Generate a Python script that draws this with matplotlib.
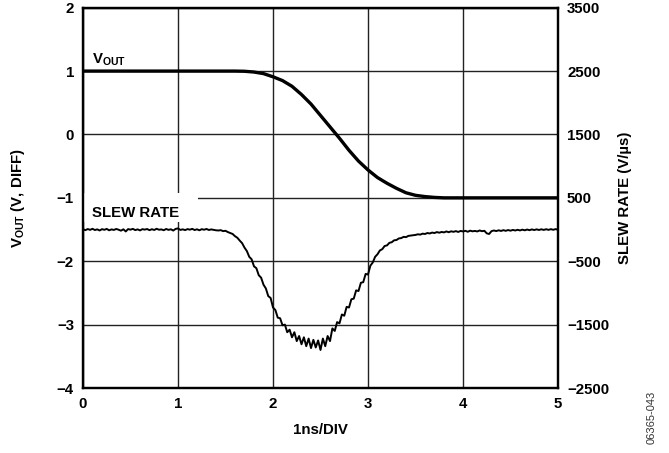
import numpy as np
import matplotlib
matplotlib.use("Agg")
import matplotlib.pyplot as plt
from matplotlib.patches import Rectangle

plt.rcParams['font.family'] = ['Liberation Sans', 'DejaVu Sans']
plt.rcParams['font.weight'] = 'bold'
plt.rcParams['mathtext.fontset'] = 'custom'
plt.rcParams['mathtext.rm'] = 'Liberation Sans:bold'
plt.rcParams['mathtext.bf'] = 'Liberation Sans:bold'

# VOUT (V, diff) vs time (ns)
vout_t = [0.0, 1.6, 1.7, 1.8, 1.9, 2.0, 2.1, 2.2, 2.3, 2.4, 2.5, 2.6, 2.7,
          2.8, 2.9, 3.0, 3.1, 3.2, 3.3, 3.4, 3.5, 3.6, 3.7, 3.8, 3.9, 5.0]
vout_v = [1.0, 1.0, 0.997, 0.985, 0.96, 0.91, 0.85, 0.76, 0.63, 0.48, 0.30,
          0.12, -0.06, -0.25, -0.42, -0.56, -0.68, -0.77, -0.85, -0.92,
          -0.96, -0.98, -0.993, -1.0, -1.0, -1.0]

# slew rate (V/us), one sample every 0.025 ns from 0 to 5 ns (scope noise included)
slew = [
    5, -10, 8, -5, 12, -8, 3, -15,
    6, -4, 10, -12, 2, -6, 9, -3,
    -18, 4, -30, 7, -2, 11, -9, 3,
    -14, 6, -1, 8, -10, 5, -7, 12,
    -3, 2, -11, 9, -5, 4, -16, 10,
    18, -6, 3, -9, 7, -2, 11, -8,
    4, -12, 6, -3, 9, -7, 2, -5,
    -12,
    -15, -10, -25, -20, -40, -55, -70, -105,
    -130, -175, -215, -285, -340, -430, -470, -580,
    -610, -720, -760, -870, -930, -1050, -1080, -1230,
    -1270, -1390, -1400, -1510, -1500, -1620, -1580, -1700,
    -1620, -1760, -1680, -1810, -1700, -1840, -1720, -1870,
    -1740, -1860, -1750, -1900, -1720, -1840, -1680, -1760,
    -1560, -1600, -1460, -1480, -1340, -1360, -1220, -1230,
    -1100, -1090, -960, -970, -840, -830, -700, -710,
    -570, -520, -430, -390, -330, -310, -260, -250,
    -210, -200, -170, -165, -140, -135, -115, -120,
    -100, -95, -90, -85,
    -75, -80, -65, -70, -55, -62, -48, -55,
    -40, -50, -38, -45, -30, -42, -28, -36,
    -25, -38, -22, -30, -20, -35, -18, -28,
    -22, -30, -15, -26, -20, -60, -70, -25,
    -15, -24, -12, -22, -10, -20, -8, -18,
    -6, -15, -4, -14, -2, -12, 0, -10,
    2, -8, 3, -7, 4, -6, 5, -5,
    6, -4, 7, -3,
]
slew_t = np.linspace(0, 5, len(slew))

x_ticks = [0, 1, 2, 3, 4, 5]
left_ticks = [-4, -3, -2, -1, 0, 1, 2]
right_ticks = [-2500, -1500, -500, 500, 1500, 2500, 3500]

FS = 10.8

fig = plt.figure(figsize=(6.69, 4.53), dpi=100)
ax = fig.add_axes([83 / 669, 1 - 388 / 453, (558 - 83) / 669, (388 - 7.7) / 453])
ax2 = ax.twinx()

ax.set_xlim(0, 5)
ax.set_ylim(-4, 2)
ax2.set_ylim(-2500, 3500)
ax.set_xticks(x_ticks)
ax.set_yticks(left_ticks)
ax2.set_yticks(right_ticks)
ax.set_axisbelow(True)
ax.grid(True, color='#222222', linewidth=1.0)

for a in (ax, ax2):
    a.tick_params(length=0, labelsize=FS, pad=6.5)
    for s in a.spines.values():
        s.set_linewidth(1.6)
        s.set_color('black')

# white patch behind the SLEW RATE label (breaks the grid like the original)
ax.add_patch(Rectangle((0, -1.384), 1.21, 0.458, facecolor='white',
                       edgecolor='none', zorder=1))

ax.plot(vout_t, vout_v, color='black', linewidth=2.4, zorder=3,
        solid_capstyle='butt')
ax2.plot(slew_t, slew, color='black', linewidth=1.4, zorder=3)

ax.text(0.095, 1.13, r'V$_{\mathrm{OUT}}$', fontsize=FS, ha='left', va='baseline')
ax.text(0.095, -1.305, 'SLEW RATE', fontsize=FS, ha='left', va='baseline', zorder=4)

fig.text(18 / 669, 1 - 198 / 453, r'V$_{\mathrm{OUT}}$ (V, DIFF)', rotation=90,
         fontsize=FS, ha='center', va='center')
fig.text(625 / 669, 1 - 198 / 453, 'SLEW RATE (V/µs)', rotation=90,
         fontsize=FS, ha='center', va='center')
fig.text(320 / 669, 1 - 430 / 453, '1ns/DIV', fontsize=FS, ha='center', va='center')
fig.text(652 / 669, 1 - 417 / 453, '06365-043', rotation=90, fontsize=8,
         fontweight='normal', ha='center', va='center', color='#333333')

fig.savefig('out.png', dpi=100)
